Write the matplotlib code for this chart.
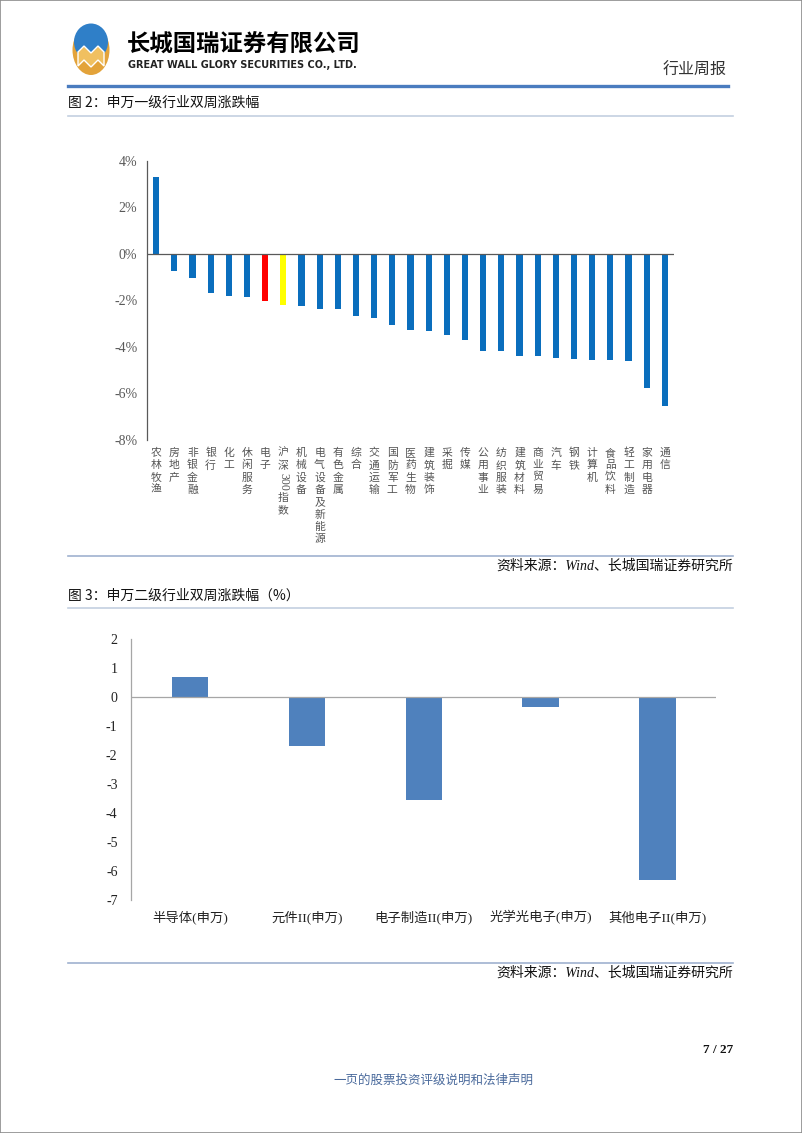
import matplotlib
matplotlib.use("Agg")
import matplotlib.pyplot as plt
import matplotlib.transforms as mtransforms
from matplotlib.patches import Ellipse, Polygon, Rectangle
from matplotlib.lines import Line2D

W, H = 802, 1133
CJK = "Noto Sans CJK SC"
SERIF = "Liberation Serif"
plt.rcParams["font.family"] = [CJK, "DejaVu Sans"]

# figure 2: SW level-1 industries, two-week change (%)
industries = [
    "农林牧渔", "房地产", "非银金融", "银行", "化工", "休闲服务", "电子",
    "沪深300指数", "机械设备", "电气设备及新能源", "有色金属", "综合",
    "交通运输", "国防军工", "医药生物", "建筑装饰", "采掘", "传媒",
    "公用事业", "纺织服装", "建筑材料", "商业贸易", "汽车", "钢铁",
    "计算机", "食品饮料", "轻工制造", "家用电器", "通信",
]
industry_chg = [
    3.31, -0.72, -1.04, -1.68, -1.80, -1.84, -2.01,
    -2.19, -2.26, -2.37, -2.37, -2.69,
    -2.75, -3.04, -3.28, -3.32, -3.47, -3.70,
    -4.16, -4.19, -4.37, -4.37, -4.47, -4.50,
    -4.55, -4.55, -4.60, -5.77, -6.56,
]
y1_ticks = [4, 2, 0, -2, -4, -6, -8]

# figure 3: SW level-2 electronics sub-industries, two-week change (%)
sub_industries = ["半导体(申万)", "元件II(申万)", "电子制造II(申万)",
                  "光学光电子(申万)", "其他电子II(申万)"]
sub_chg = [0.71, -1.67, -3.56, -0.34, -6.30]
y2_ticks = [2, 1, 0, -1, -2, -3, -4, -5, -6, -7]


def fy(y):
    return 1 - y / H


def fig_axes(x0, y_top, x1, y_bot):
    return fig.add_axes([x0 / W, fy(y_bot), (x1 - x0) / W, (y_bot - y_top) / H])


def hline(y, x0, x1, color, lw):
    fig.add_artist(Line2D([x0 / W, x1 / W], [fy(y), fy(y)], color=color, lw=lw,
                          transform=fig.transFigure))


fig = plt.figure(figsize=(W / 100, H / 100), dpi=100)
fig.add_artist(Rectangle((0, 0), 1, 1, transform=fig.transFigure, fill=False,
                         edgecolor="#8c8c8c", lw=1.2))

# ---- header / logo
fig.add_artist(Ellipse((91 / W, fy(50)), 37 / W, 50 / H, transform=fig.transFigure,
                       facecolor="#e3a33a", edgecolor="none"))
fig.add_artist(Ellipse((91 / W, fy(42)), 34 / W, 37 / H, transform=fig.transFigure,
                       facecolor="#2f7fc8", edgecolor="none"))
m_shape = [(78, 52), (84, 46), (91, 53), (98, 46), (104, 52), (104, 66),
           (98, 60), (91, 67), (84, 60), (78, 66)]
fig.add_artist(Polygon([(x / W, fy(y)) for x, y in m_shape], closed=True,
                       transform=fig.transFigure, facecolor="#f0c060",
                       edgecolor="#ffffff", lw=1.0))
fig.text(127 / W, fy(45), "长城国瑞证券有限公司", fontsize=16.8, fontweight="bold",
         color="black", va="center", ha="left")
fig.text(128 / W, fy(65), "GREAT WALL GLORY SECURITIES CO., LTD.", fontsize=7.0,
         fontweight="bold", family="DejaVu Sans", color="#222222", va="center",
         ha="left")
fig.text(727 / W, fy(70), "行业周报", fontsize=11.5, color="#333333", va="center",
         ha="right")
hline(86, 68, 728, "#4a7cbf", 2.4)

# ---- figure 2
fig.text(68 / W, fy(103), "图 2：申万一级行业双周涨跌幅", fontsize=10, color="#111111",
         va="center", ha="left")
hline(116, 68, 733, "#c3d0e0", 1.2)

ax1 = fig_axes(147, 160.7, 674, 440)
x1 = list(range(len(industries)))
colors1 = ["#0a6ebd"] * len(industries)
colors1[industries.index("电子")] = "#ff0000"
colors1[industries.index("沪深300指数")] = "#ffff00"
ax1.bar(x1, industry_chg, width=0.34, color=colors1)
ax1.set_xlim(-0.5, len(industries) - 0.5)
ax1.set_ylim(-8, 4)
ax1.axhline(0, color="#595959", lw=0.9)
for s in ["top", "right", "bottom"]:
    ax1.spines[s].set_visible(False)
ax1.spines["left"].set_color("#595959")
ax1.spines["left"].set_linewidth(0.9)
ax1.set_xticks([])
ax1.set_yticks(y1_ticks)
ax1.set_yticklabels([f"{v}%" for v in y1_ticks], family=SERIF, fontsize=10,
                    color="#595959")
ax1.tick_params(axis="y", length=0, pad=7)

# vertical category labels, one character per line
tr = mtransforms.blended_transform_factory(ax1.transData, fig.transFigure)
for xi, name in zip(x1, industries):
    tokens, buf = [], ""
    for ch in name:
        if ch.isdigit():
            buf += ch
        else:
            if buf:
                tokens.append(buf)
                buf = ""
            tokens.append(ch)
    if buf:
        tokens.append(buf)
    cur = 447
    for tok in tokens:
        if tok.isdigit():
            h = 6 * len(tok)
            ax1.text(xi, fy(cur + h / 2 + 1), tok, transform=tr, rotation=-90,
                     family=SERIF, fontsize=8.5, color="#555555", ha="center",
                     va="center")
            cur += h + 2
        else:
            ax1.text(xi, fy(cur + 6), tok, transform=tr, fontsize=7.8,
                     color="#555555", ha="center", va="center")
            cur += 12.3

hline(556, 68, 733, "#9fb2cf", 1.2)
fig.text(733 / W, fy(566), "资料来源：Wind、长城国瑞证券研究所", fontsize=10,
         family=[SERIF, CJK], style="italic", color="#111111", va="center",
         ha="right")

# ---- figure 3
fig.text(68 / W, fy(596), "图 3：申万二级行业双周涨跌幅（%）", fontsize=10,
         color="#111111", va="center", ha="left")
hline(608, 68, 733, "#c3d0e0", 1.2)

ax2 = fig_axes(131.4, 639.3, 716, 900)
x2 = list(range(len(sub_industries)))
ax2.bar(x2, sub_chg, width=0.31, color="#4f81bd")
ax2.set_xlim(-0.5, len(sub_industries) - 0.5)
ax2.set_ylim(-7, 2)
ax2.axhline(0, color="#a6a6a6", lw=0.9)
for s in ["top", "right", "bottom"]:
    ax2.spines[s].set_visible(False)
ax2.spines["left"].set_color("#a6a6a6")
ax2.spines["left"].set_linewidth(0.9)
ax2.set_xticks([])
ax2.set_yticks(y2_ticks)
ax2.set_yticklabels([str(v) for v in y2_ticks], family=SERIF, fontsize=10,
                    color="#222222")
ax2.tick_params(axis="y", length=0, pad=10)
tr2 = mtransforms.blended_transform_factory(ax2.transData, fig.transFigure)
for xi, name in zip(x2, sub_industries):
    ax2.text(xi, fy(917), name, transform=tr2, family=[SERIF, CJK], fontsize=9.6,
             color="#222222", ha="center", va="center")

hline(963, 68, 733, "#9fb2cf", 1.2)
fig.text(733 / W, fy(973), "资料来源：Wind、长城国瑞证券研究所", fontsize=10,
         family=[SERIF, CJK], style="italic", color="#111111", va="center",
         ha="right")

# ---- footer
fig.text(733 / W, fy(1050), "7 / 27", fontsize=9.5, family=SERIF, fontweight="bold",
         color="#111111", va="center", ha="right")
fig.text(433 / W, fy(1080), "一页的股票投资评级说明和法律声明", fontsize=9,
         color="#4a6a9c", va="center", ha="center")

fig.savefig("out.png", dpi=100)
